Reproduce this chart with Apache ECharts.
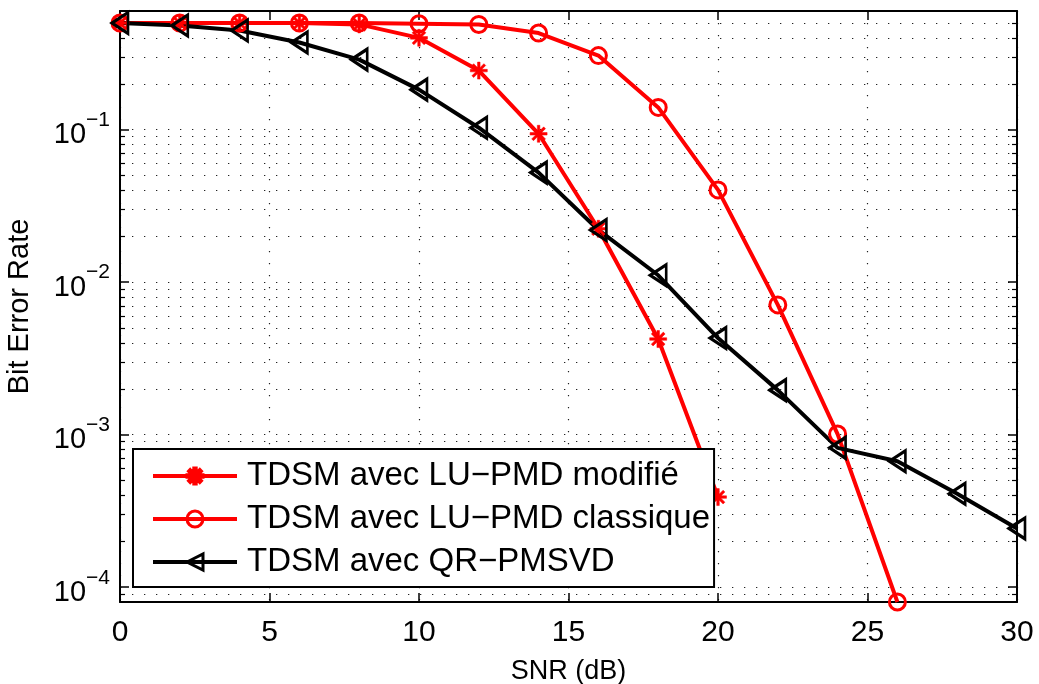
<!DOCTYPE html>
<html>
<head>
<meta charset="utf-8">
<script src="https://cdn.jsdelivr.net/npm/echarts@6/dist/echarts.min.js"></script>
<style>
  html,body{margin:0;padding:0;background:#fff;}
  #chart{width:1039px;height:684px;}
</style>
</head>
<body>
<div id="chart"></div>
<script>
// SNR points (dB)
var snrModifie = [0,2,4,6,8,10,12,14,16,18,20];
var snrClassique = [0,2,4,6,8,10,12,14,16,18,20,22,24,26];
var snrQR = [0,2,4,6,8,10,12,14,16,18,20,22,24,26,28,30];

// bit error rates
var berModifie = [0.5,0.5,0.5,0.5,0.49,0.40,0.244,0.094,0.0224,0.00424,0.00039];
var berClassique = [0.5,0.5,0.5,0.5,0.5,0.495,0.49,0.43,0.306,0.140,0.0403,0.0071,0.00101,0.00008];
var berQR = [0.5,0.482,0.447,0.373,0.288,0.183,0.103,0.0523,0.0220,0.0111,0.0043,0.00196,0.00082,0.00067,0.00041,0.000243];

var legendNames = ['TDSM avec LU\u2212PMD modifié','TDSM avec LU\u2212PMD classique','TDSM avec QR\u2212PMSVD'];
var decadeTicks = [-4,-3,-2,-1];

var yMin = Math.log10(8e-5);
var yMax = Math.log10(0.6);
var FONT = '"Liberation Sans", Arial, sans-serif';

// minor log ticks 2..9 x 10^n inside the range
var minorTicks = [];
for (var d=-5; d<=-1; d++){
  for (var k=2; k<=9; k++){
    var v = Math.log10(k*Math.pow(10,d));
    if (v>yMin+0.002 && v<yMax-0.002) minorTicks.push(v);
  }
}

function toPairs(xs, ys){
  return xs.map(function(x,i){ return [x, Math.log10(ys[i])]; });
}

var asterisk = 'path://M0,8.5H20V11.5H0Z M8.5,0H11.5V20H8.5Z M3.99,1.87L18.13,16.01L16.01,18.13L1.87,3.99Z M1.87,16.01L16.01,1.87L18.13,3.99L3.99,18.13Z';
var leftTri = 'path://M0,10L17,0L17,20Z';

var dotted = {color:'#222', width:1.2, type:[1.3,10.7]};

var chart = echarts.init(document.getElementById('chart'));
var option = {
  animation:false,
  textStyle:{fontFamily:FONT},
  grid:{left:120,right:22,top:11,bottom:82,show:false,outerBoundsMode:'none',containLabel:false},
  legend:{
    orient:'vertical',
    left:133, top:449,
    data:legendNames,
    backgroundColor:'#fff',
    borderColor:'#000', borderWidth:2,
    padding:[9,4,7,18],
    itemWidth:84, itemHeight:20, itemGap:7,
    lineStyle:{width:4},
    itemStyle:{borderWidth:3},
    textStyle:{fontFamily:FONT, fontSize:33, color:'#000', lineHeight:36, padding:[0,0,0,5]}
  },
  xAxis:[
    {type:'value', position:'bottom', min:0, max:30, interval:5,
     axisLine:{lineStyle:{color:'#000',width:2}},
     axisTick:{inside:true,length:9,lineStyle:{color:'#000',width:1.5}},
     axisLabel:{fontFamily:FONT,fontSize:30,color:'#000',margin:16},
     splitLine:{show:true,lineStyle:dotted},
     name:'SNR (dB)', nameLocation:'middle', nameGap:56,
     nameTextStyle:{fontFamily:FONT,fontSize:27,color:'#000'}},
    {type:'value', position:'top', min:0, max:30, interval:5,
     axisLine:{lineStyle:{color:'#000',width:2}},
     axisTick:{inside:true,length:9,lineStyle:{color:'#000',width:1.5}},
     axisLabel:{show:false}, splitLine:{show:false}}
  ],
  yAxis:[
    {type:'value', position:'left', min:yMin, max:yMax,
     axisLine:{show:true,lineStyle:{color:'#000',width:2}},
     axisTick:{inside:true,length:9,customValues:decadeTicks,lineStyle:{color:'#000',width:1.5}},
     axisLabel:{customValues:decadeTicks, margin:10,
       formatter:function(v){ return '{b|10}{s|\u2212'+Math.round(-v)+'}'; },
       rich:{
         b:{fontFamily:FONT,fontSize:29,color:'#000',lineHeight:40,verticalAlign:'bottom'},
         s:{fontFamily:FONT,fontSize:21,color:'#000',lineHeight:20,verticalAlign:'top'}
       }},
     splitLine:{show:true,lineStyle:dotted},
     name:'Bit Error Rate', nameLocation:'middle', nameGap:86,
     nameTextStyle:{fontFamily:FONT,fontSize:29,color:'#000'}},
    {type:'value', position:'left', min:yMin, max:yMax,
     axisLine:{show:false},
     axisTick:{inside:true,length:5,customValues:minorTicks,lineStyle:{color:'#000',width:1.2}},
     axisLabel:{show:false},
     splitLine:{show:true,lineStyle:dotted}},
    {type:'value', position:'right', min:yMin, max:yMax,
     axisLine:{show:true,lineStyle:{color:'#000',width:2}},
     axisTick:{inside:true,length:9,customValues:decadeTicks,lineStyle:{color:'#000',width:1.5}},
     axisLabel:{show:false}, splitLine:{show:false}},
    {type:'value', position:'right', min:yMin, max:yMax,
     axisLine:{show:false},
     axisTick:{inside:true,length:5,customValues:minorTicks,lineStyle:{color:'#000',width:1.2}},
     axisLabel:{show:false}, splitLine:{show:false}}
  ],
  series:[
    {name:legendNames[0], type:'line', data:toPairs(snrModifie,berModifie),
     symbol:asterisk, symbolSize:17, symbolKeepAspect:true,
     color:'#ff0000',
     lineStyle:{color:'#ff0000',width:4},
     itemStyle:{color:'#ff0000',borderColor:'#ff0000',borderWidth:0.5}},
    {name:legendNames[1], type:'line', data:toPairs(snrClassique,berClassique),
     symbol:'circle', symbolSize:16,
     color:'#ff0000',
     lineStyle:{color:'#ff0000',width:4},
     itemStyle:{color:'rgba(255,255,255,0)',borderColor:'#ff0000',borderWidth:3}},
    {name:legendNames[2], type:'line', data:toPairs(snrQR,berQR),
     symbol:leftTri, symbolSize:[16,21], symbolKeepAspect:false,
     color:'#000',
     lineStyle:{color:'#000',width:4},
     itemStyle:{color:'rgba(255,255,255,0)',borderColor:'#000',borderWidth:3}}
  ]
};
chart.setOption(option);
</script>
</body>
</html>
